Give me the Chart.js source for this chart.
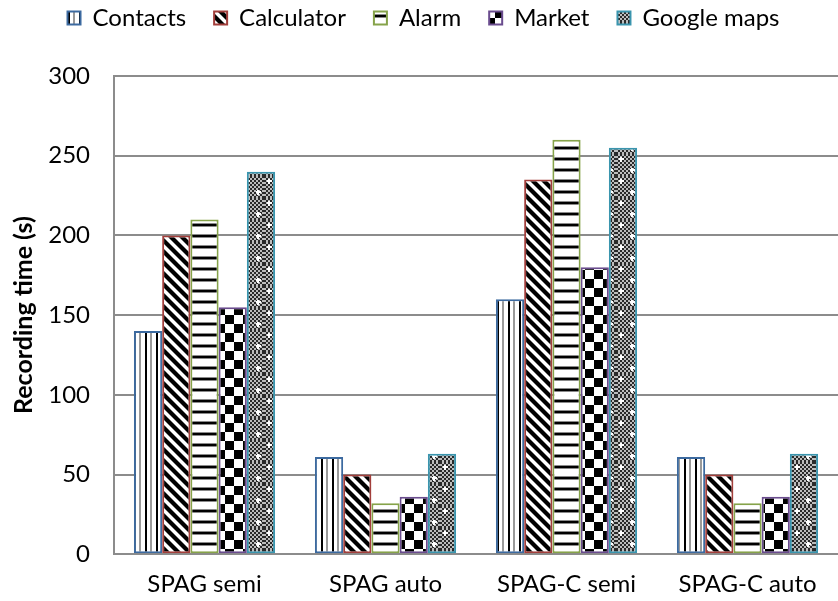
<!DOCTYPE html>
<html>
<head>
<meta charset="utf-8">
<script src="https://cdn.jsdelivr.net/npm/chart.js@4"></script>
<style>
  html, body { margin: 0; padding: 0; background: #fff; }
  #wrap { width: 838px; height: 601px; }
</style>
</head>
<body>
<div id="wrap"><canvas id="chart" width="838" height="601"></canvas></div>
<script>
// Recording time per application for each SPAG configuration
const categories = ['SPAG semi', 'SPAG auto', 'SPAG-C semi', 'SPAG-C auto'];
const seriesNames = ['Contacts', 'Calculator', 'Alarm', 'Market', 'Google maps'];
const contacts   = [140, 61, 160, 61];
const calculator = [200, 50, 235, 50];
const alarm      = [210, 32, 260, 32];
const market     = [155, 36, 180, 36];
const googleMaps = [240, 63, 255, 63];
const yTicks = [0, 50, 100, 150, 200, 250, 300];

const borderColors = ['#3C6AA0', '#A23E3B', '#86A34A', '#6A4C8E', '#3A95AE'];

// ---- hatch fills ----
function tile(size, draw) {
  const c = document.createElement('canvas');
  c.width = size; c.height = size;
  const g = c.getContext('2d');
  g.fillStyle = '#fff';
  g.fillRect(0, 0, size, size);
  draw(g, size);
  return document.getElementById('chart').getContext('2d').createPattern(c, 'repeat');
}
const P = 11;
const patVertical = tile(22, (g) => {
  for (let k = 0; k < 2; k++) {
    const x = k * P;
    g.fillStyle = '#000'; g.fillRect(x + 2, 0, 2, 22);
    g.fillStyle = '#9a9a9a'; g.fillRect(x + 7, 0, 2, 22);
  }
});
const patDiagonal = tile(22, (g) => {
  g.strokeStyle = '#000'; g.lineWidth = 4.2;
  for (let k = -3; k <= 3; k++) {
    g.beginPath();
    g.moveTo(k * P - 2, -2); g.lineTo(k * P + 24, 24);
    g.stroke();
  }
});
const patHorizontal = tile(22, (g) => {
  for (let k = 0; k < 2; k++) {
    const y = k * P;
    g.fillStyle = '#000'; g.fillRect(0, y + 4, 22, 2);
    g.fillStyle = '#8a8a8a'; g.fillRect(0, y + 3, 22, 1); g.fillRect(0, y + 6, 22, 1);
  }
});
const patChecker = tile(18, (g) => {
  g.fillStyle = '#000';
  g.fillRect(0, 0, 9, 9);
  g.fillRect(9, 9, 9, 9);
});
const patDots = tile(22, (g) => {
  for (let y = 0; y < 22; y += 2) {
    for (let x = 0; x < 22; x += 2) {
      g.fillStyle = ((x + y) / 2) % 2 === 0 ? '#2a2a2a' : '#bdbdbd';
      g.fillRect(x, y, 2, 2);
    }
  }
  g.fillStyle = '#fff';
  [[5, 5], [16, 16]].forEach(([cx, cy]) => {
    g.fillRect(cx - 1, cy - 2, 2, 5);
    g.fillRect(cx - 2, cy - 1, 5, 2);
  });
});
const fills = [patVertical, patDiagonal, patHorizontal, patChecker, patDots];
const values = [contacts, calculator, alarm, market, googleMaps];

const FONT = 'Lato, "Open Sans", sans-serif';
const FS = 24;

// Extra room below the legend row
const legendGap = {
  id: 'legendGap',
  beforeInit(chart) {
    const fit = chart.legend.fit;
    chart.legend.fit = function () {
      fit.bind(chart.legend)();
      this.height += 36;
    };
  }
};

new Chart(document.getElementById('chart'), {
  type: 'bar',
  data: {
    labels: categories,
    datasets: seriesNames.map((name, i) => ({
      label: name,
      data: values[i],
      backgroundColor: fills[i],
      borderColor: borderColors[i],
      borderWidth: 2,
      borderSkipped: false,
      categoryPercentage: 0.78,
      barPercentage: 1.0
    }))
  },
  options: {
    responsive: false,
    animation: false,
    devicePixelRatio: 1,
    layout: { padding: { left: 9, right: 0, top: -22, bottom: -14 } },
    plugins: {
      legend: {
        position: 'top',
        labels: {
          font: { family: FONT, size: FS },
          color: '#000',
          boxWidth: 13,
          boxHeight: 13,
          padding: 28
        }
      },
      tooltip: { enabled: false }
    },
    scales: {
      x: {
        grid: { display: false, drawTicks: false },
        border: { display: true, color: '#8c8c8c', width: 2 },
        ticks: { font: { family: FONT, size: FS }, color: '#000', padding: 16 }
      },
      y: {
        min: 0, max: 300,
        afterBuildTicks: (s) => { s.ticks = yTicks.map(v => ({ value: v })); },
        afterFit: (s) => { s.width = 105; },
        grid: { color: '#8c8c8c', lineWidth: 2, drawTicks: false },
        border: { display: true, color: '#8c8c8c', width: 2 },
        ticks: { font: { family: FONT, size: FS }, color: '#000', padding: 24 },
        title: {
          display: true,
          text: 'Recording time (s)',
          font: { family: FONT, size: 25, weight: 'bold' },
          color: '#000',
          padding: { top: 0, bottom: 4 }
        }
      }
    }
  },
  plugins: [legendGap]
});
</script>
</body>
</html>
